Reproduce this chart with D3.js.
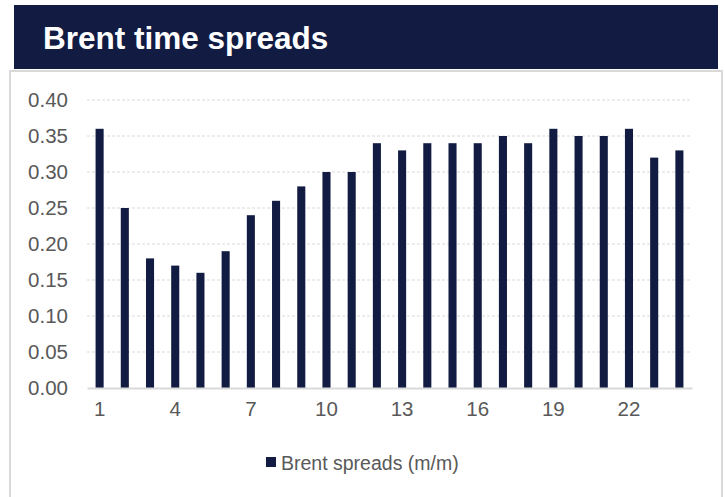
<!DOCTYPE html>
<html>
<head>
<meta charset="utf-8">
<script src="https://cdn.jsdelivr.net/npm/d3@7"></script>
<style>
  html, body { margin: 0; padding: 0; background: #ffffff; }
  svg { display: block; }
  text { font-family: "Liberation Sans", Arial, sans-serif; }
</style>
</head>
<body>
<svg id="chart" width="725" height="497"></svg>
<script>
// Brent month-on-month time spreads by contract month
const months = d3.range(1, 25);
const spreads = [0.36, 0.25, 0.18, 0.17, 0.16, 0.19, 0.24, 0.26, 0.28, 0.30, 0.30, 0.34,
                 0.33, 0.34, 0.34, 0.34, 0.35, 0.34, 0.36, 0.35, 0.35, 0.36, 0.32, 0.33];
const yTicks = [0, 0.05, 0.10, 0.15, 0.20, 0.25, 0.30, 0.35, 0.40];
const xTickLabels = [1, 4, 7, 10, 13, 16, 19, 22];
const title = "Brent time spreads";
const seriesName = "Brent spreads (m/m)";

const navy = "#121c43";
const textGrey = "#595959";
const lineGrey = "#d9d9d9";

const svg = d3.select("#chart");

// Frame around the chart body
svg.append("rect")
  .attr("x", 10).attr("y", 71)
  .attr("width", 712).attr("height", 440)
  .attr("fill", "#ffffff")
  .attr("stroke", lineGrey).attr("stroke-width", 2);

// Title banner
svg.append("rect")
  .attr("x", 14).attr("y", 5)
  .attr("width", 704).attr("height", 64)
  .attr("fill", navy);
svg.append("text")
  .attr("x", 43).attr("y", 48.5)
  .attr("fill", "#ffffff")
  .attr("font-weight", "bold")
  .attr("font-size", 31.5)
  .text(title);

const plot = { left: 87, right: 692, top: 100, bottom: 388 };

const x = d3.scaleBand()
  .domain(months)
  .range([plot.left, plot.right])
  .paddingInner(0.68)
  .paddingOuter(0.34);

const y = d3.scaleLinear()
  .domain([0, 0.4])
  .range([plot.bottom, plot.top]);

// Horizontal dashed gridlines
svg.append("g")
  .selectAll("line")
  .data(yTicks.filter(d => d > 0))
  .join("line")
  .attr("x1", plot.left).attr("x2", plot.right)
  .attr("y1", d => y(d)).attr("y2", d => y(d))
  .attr("stroke", lineGrey)
  .attr("stroke-width", 1)
  .attr("stroke-dasharray", "3,2");

// Y axis labels
const yAxis = d3.axisLeft(y)
  .tickValues(yTicks)
  .tickFormat(d3.format(".2f"))
  .tickSize(0)
  .tickPadding(0);
const gy = svg.append("g")
  .attr("transform", `translate(68,0)`)
  .call(yAxis);
gy.select(".domain").remove();
gy.selectAll("text")
  .attr("fill", textGrey)
  .attr("font-size", 20.5)
  .attr("font-family", "Liberation Sans, Arial, sans-serif");

// Bars
svg.append("g")
  .selectAll("rect")
  .data(spreads)
  .join("rect")
  .attr("x", (d, i) => x(months[i]))
  .attr("y", d => y(d))
  .attr("width", x.bandwidth())
  .attr("height", d => y(0) - y(d))
  .attr("fill", navy);

// Category axis
const xAxis = d3.axisBottom(x)
  .tickValues(xTickLabels)
  .tickSize(0)
  .tickPadding(13);
const gx = svg.append("g")
  .attr("transform", `translate(0,${plot.bottom})`)
  .call(xAxis);
gx.select(".domain")
  .attr("stroke", lineGrey)
  .attr("stroke-width", 2);
gx.selectAll("text")
  .attr("fill", textGrey)
  .attr("font-size", 20.5)
  .attr("font-family", "Liberation Sans, Arial, sans-serif");

// Legend
const legend = svg.append("g").attr("transform", "translate(266,457)");
legend.append("rect")
  .attr("width", 10).attr("height", 10)
  .attr("fill", navy);
legend.append("text")
  .attr("x", 15).attr("y", 12.5)
  .attr("fill", textGrey)
  .attr("font-size", 19.5)
  .text(seriesName);
</script>
</body>
</html>
